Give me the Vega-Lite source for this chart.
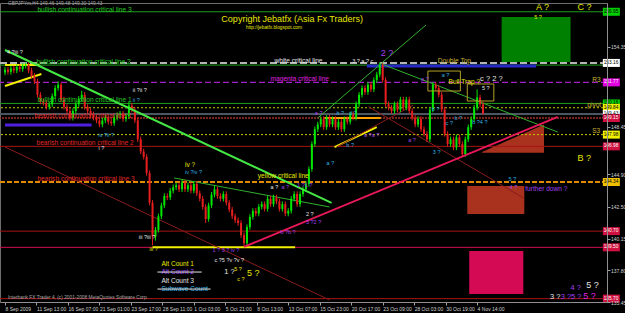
{
"$schema":"https://vega.github.io/schema/vega-lite/v6.json",
"width":607,"height":299,
"autosize":{"type":"none"},
"padding":{"left":0,"top":3,"right":18,"bottom":11},
"background":"#000000",
"config":{"view":{"stroke":"#6e6e6e","strokeWidth":1},"font":"Liberation Sans",
 "axis":{"grid":false,"title":null,"labelFontSize":5,"labelColor":"#d0d0d0","tickColor":"#a0a0a0","tickSize":3,"domainColor":"#909090","labelFlush":false,"labelOverlap":false}},
"datasets":{
"candles":[
{"k":0,"o":152.45,"h":152.86,"l":152.25,"c":152.66},{"k":1,"o":152.66,"h":152.86,"l":152.3,"c":152.5},{"k":2,"o":152.5,"h":152.95,"l":152.3,"c":152.75},{"k":3,"o":152.75,"h":152.95,"l":152.4,"c":152.6},{"k":4,"o":152.6,"h":153.05,"l":152.4,"c":152.85},{"k":5,"o":152.85,"h":153.05,"l":152.5,"c":152.7},{"k":6,"o":152.7,"h":153.15,"l":152.5,"c":152.95},{"k":7,"o":152.95,"h":153.2,"l":152.75,"c":153.0},{"k":8,"o":153.0,"h":153.2,"l":152.4,"c":152.6},{"k":9,"o":152.6,"h":152.8,"l":152.0,"c":152.2},
{"k":10,"o":152.2,"h":152.4,"l":151.6,"c":151.8},{"k":11,"o":151.8,"h":152.0,"l":150.6,"c":150.8},{"k":12,"o":150.8,"h":151.0,"l":150.1,"c":150.3},{"k":13,"o":150.3,"h":150.5,"l":150.0,"c":150.2},{"k":14,"o":150.2,"h":150.4,"l":149.7,"c":149.9},{"k":15,"o":149.9,"h":150.3,"l":149.7,"c":150.1},{"k":16,"o":150.1,"h":150.9,"l":149.9,"c":150.7},{"k":17,"o":150.7,"h":151.5,"l":150.5,"c":151.3},{"k":18,"o":151.3,"h":151.8,"l":151.1,"c":151.55},{"k":19,"o":151.55,"h":151.7,"l":150.25,"c":150.45},
{"k":20,"o":150.45,"h":150.65,"l":149.7,"c":149.9},{"k":21,"o":149.9,"h":150.1,"l":149.4,"c":149.6},{"k":22,"o":149.6,"h":149.8,"l":148.9,"c":149.1},{"k":23,"o":149.1,"h":149.8,"l":148.9,"c":149.6},{"k":24,"o":149.6,"h":150.3,"l":149.4,"c":150.1},{"k":25,"o":150.1,"h":150.7,"l":149.9,"c":150.5},{"k":26,"o":150.5,"h":151.1,"l":150.3,"c":150.8},{"k":27,"o":150.8,"h":151.0,"l":149.7,"c":149.9},{"k":28,"o":149.9,"h":150.1,"l":149.4,"c":149.6},{"k":29,"o":149.6,"h":149.8,"l":149.15,"c":149.35},
{"k":30,"o":149.35,"h":149.55,"l":148.9,"c":149.1},{"k":31,"o":149.1,"h":149.3,"l":148.7,"c":148.9},{"k":32,"o":148.9,"h":149.1,"l":148.4,"c":148.6},{"k":33,"o":148.6,"h":149.1,"l":148.4,"c":148.9},{"k":34,"o":148.9,"h":149.3,"l":148.7,"c":149.1},{"k":35,"o":149.1,"h":149.3,"l":148.6,"c":148.8},{"k":36,"o":148.8,"h":149.0,"l":148.5,"c":148.7},{"k":37,"o":148.7,"h":149.3,"l":148.5,"c":149.1},{"k":38,"o":149.1,"h":149.5,"l":148.9,"c":149.3},{"k":39,"o":149.3,"h":149.6,"l":149.1,"c":149.4},
{"k":40,"o":149.4,"h":149.6,"l":148.8,"c":149.0},{"k":41,"o":149.0,"h":149.4,"l":148.8,"c":149.2},{"k":42,"o":149.2,"h":150.3,"l":149.0,"c":150.0},{"k":43,"o":150.0,"h":150.2,"l":149.5,"c":149.7},{"k":44,"o":149.7,"h":149.9,"l":148.7,"c":148.9},{"k":45,"o":148.9,"h":149.1,"l":147.3,"c":147.5},{"k":46,"o":147.5,"h":147.7,"l":146.4,"c":146.6},{"k":47,"o":146.6,"h":146.8,"l":146.0,"c":146.2},{"k":48,"o":146.2,"h":146.4,"l":144.8,"c":145.0},{"k":49,"o":145.0,"h":145.2,"l":142.6,"c":142.8},
{"k":50,"o":142.8,"h":143.0,"l":139.65,"c":140.3},{"k":51,"o":140.3,"h":141.0,"l":140.0,"c":140.8},{"k":52,"o":140.8,"h":142.0,"l":140.6,"c":141.8},{"k":53,"o":141.8,"h":142.8,"l":141.6,"c":142.6},{"k":54,"o":142.6,"h":143.5,"l":142.4,"c":143.3},{"k":55,"o":143.3,"h":143.5,"l":143.0,"c":143.2},{"k":56,"o":143.2,"h":143.9,"l":143.0,"c":143.7},{"k":57,"o":143.7,"h":144.15,"l":143.5,"c":143.95},{"k":58,"o":143.95,"h":144.3,"l":143.75,"c":144.1},{"k":59,"o":144.1,"h":144.3,"l":143.6,"c":143.8},
{"k":60,"o":143.8,"h":144.5,"l":143.6,"c":144.3},{"k":61,"o":144.3,"h":144.5,"l":143.6,"c":143.8},{"k":62,"o":143.8,"h":144.3,"l":143.6,"c":144.1},{"k":63,"o":144.1,"h":144.3,"l":143.5,"c":143.7},{"k":64,"o":143.7,"h":144.4,"l":143.5,"c":144.2},{"k":65,"o":144.2,"h":144.4,"l":143.3,"c":143.5},{"k":66,"o":143.5,"h":143.7,"l":142.9,"c":143.1},{"k":67,"o":143.1,"h":143.3,"l":142.3,"c":142.5},{"k":68,"o":142.5,"h":142.7,"l":141.3,"c":141.6},{"k":69,"o":141.6,"h":142.8,"l":141.4,"c":142.6},
{"k":70,"o":142.6,"h":143.6,"l":142.4,"c":143.4},{"k":71,"o":143.4,"h":144.1,"l":143.2,"c":143.8},{"k":72,"o":143.8,"h":144.0,"l":143.1,"c":143.3},{"k":73,"o":143.3,"h":143.5,"l":142.9,"c":143.1},{"k":74,"o":143.1,"h":143.65,"l":142.9,"c":143.45},{"k":75,"o":143.45,"h":143.65,"l":142.6,"c":142.8},{"k":76,"o":142.8,"h":143.0,"l":142.1,"c":142.3},{"k":77,"o":142.3,"h":142.5,"l":141.6,"c":141.8},{"k":78,"o":141.8,"h":142.0,"l":141.3,"c":141.5},{"k":79,"o":141.5,"h":141.7,"l":141.1,"c":141.3},
{"k":80,"o":141.3,"h":141.5,"l":140.2,"c":140.4},{"k":81,"o":140.4,"h":140.6,"l":139.6,"c":139.8},{"k":82,"o":139.8,"h":141.2,"l":139.6,"c":141.0},{"k":83,"o":141.0,"h":141.95,"l":140.8,"c":141.75},{"k":84,"o":141.75,"h":142.4,"l":141.55,"c":142.2},{"k":85,"o":142.2,"h":142.4,"l":141.8,"c":142.0},{"k":86,"o":142.0,"h":142.7,"l":141.8,"c":142.5},{"k":87,"o":142.5,"h":142.9,"l":142.3,"c":142.7},{"k":88,"o":142.7,"h":142.9,"l":142.15,"c":142.35},{"k":89,"o":142.35,"h":143.3,"l":142.15,"c":143.1},
{"k":90,"o":143.1,"h":143.3,"l":142.5,"c":142.7},{"k":91,"o":142.7,"h":143.4,"l":142.5,"c":143.2},{"k":92,"o":143.2,"h":143.4,"l":142.7,"c":142.9},{"k":93,"o":142.9,"h":143.1,"l":142.15,"c":142.35},{"k":94,"o":142.35,"h":142.9,"l":142.15,"c":142.7},{"k":95,"o":142.7,"h":142.9,"l":141.8,"c":142.0},{"k":96,"o":142.0,"h":142.4,"l":141.8,"c":142.2},{"k":97,"o":142.2,"h":143.3,"l":142.0,"c":143.1},{"k":98,"o":143.1,"h":143.65,"l":142.9,"c":143.45},{"k":99,"o":143.45,"h":143.65,"l":142.5,"c":142.7},
{"k":100,"o":142.7,"h":143.65,"l":142.5,"c":143.45},{"k":101,"o":143.45,"h":144.0,"l":143.25,"c":143.8},{"k":102,"o":143.8,"h":144.4,"l":143.6,"c":144.2},{"k":103,"o":144.2,"h":145.5,"l":144.0,"c":145.3},{"k":104,"o":145.3,"h":147.35,"l":145.1,"c":147.15},{"k":105,"o":147.15,"h":148.45,"l":146.95,"c":148.25},{"k":106,"o":148.25,"h":148.8,"l":148.05,"c":148.6},{"k":107,"o":148.6,"h":149.2,"l":148.4,"c":149.0},{"k":108,"o":149.0,"h":149.2,"l":148.2,"c":148.4},{"k":109,"o":148.4,"h":149.3,"l":148.2,"c":149.1},
{"k":110,"o":149.1,"h":149.3,"l":148.4,"c":148.6},{"k":111,"o":148.6,"h":149.2,"l":148.4,"c":149.0},{"k":112,"o":149.0,"h":149.2,"l":148.2,"c":148.4},{"k":113,"o":148.4,"h":149.0,"l":148.2,"c":148.8},{"k":114,"o":148.8,"h":149.0,"l":148.05,"c":148.25},{"k":115,"o":148.25,"h":149.2,"l":148.05,"c":149.0},{"k":116,"o":149.0,"h":149.2,"l":148.6,"c":148.8},{"k":117,"o":148.8,"h":149.55,"l":148.6,"c":149.35},{"k":118,"o":149.35,"h":149.55,"l":148.9,"c":149.1},{"k":119,"o":149.1,"h":150.3,"l":148.9,"c":150.1},
{"k":120,"o":150.1,"h":151.0,"l":149.9,"c":150.8},{"k":121,"o":150.8,"h":151.5,"l":150.6,"c":151.3},{"k":122,"o":151.3,"h":151.5,"l":150.8,"c":151.0},{"k":123,"o":151.0,"h":151.75,"l":150.8,"c":151.55},{"k":124,"o":151.55,"h":151.75,"l":151.0,"c":151.2},{"k":125,"o":151.2,"h":152.1,"l":151.0,"c":151.9},{"k":126,"o":151.9,"h":152.5,"l":151.7,"c":152.3},{"k":127,"o":152.3,"h":153.2,"l":152.1,"c":153.0},{"k":128,"o":153.0,"h":153.15,"l":151.7,"c":151.9},{"k":129,"o":151.9,"h":152.1,"l":149.9,"c":150.1},
{"k":130,"o":150.1,"h":150.3,"l":149.65,"c":149.85},{"k":131,"o":149.85,"h":150.05,"l":149.4,"c":149.6},{"k":132,"o":149.6,"h":150.3,"l":149.4,"c":150.1},{"k":133,"o":150.1,"h":150.3,"l":149.5,"c":149.7},{"k":134,"o":149.7,"h":150.65,"l":149.5,"c":150.45},{"k":135,"o":150.45,"h":150.65,"l":149.65,"c":149.85},{"k":136,"o":149.85,"h":150.65,"l":149.65,"c":150.45},{"k":137,"o":150.45,"h":150.65,"l":149.4,"c":149.6},{"k":138,"o":149.6,"h":149.8,"l":148.9,"c":149.1},{"k":139,"o":149.1,"h":149.3,"l":148.4,"c":148.6},
{"k":140,"o":148.6,"h":149.2,"l":148.4,"c":149.0},{"k":141,"o":149.0,"h":149.2,"l":148.05,"c":148.25},{"k":142,"o":148.25,"h":148.45,"l":147.7,"c":147.9},{"k":143,"o":147.9,"h":148.1,"l":147.3,"c":147.5},{"k":144,"o":147.5,"h":149.9,"l":147.3,"c":149.7},{"k":145,"o":149.7,"h":151.75,"l":149.5,"c":151.55},{"k":146,"o":151.55,"h":151.75,"l":151.1,"c":151.3},{"k":147,"o":151.3,"h":151.5,"l":150.6,"c":150.8},{"k":148,"o":150.8,"h":151.0,"l":149.5,"c":149.7},{"k":149,"o":149.7,"h":149.9,"l":147.7,"c":147.9},
{"k":150,"o":147.9,"h":148.1,"l":146.95,"c":147.15},{"k":151,"o":147.15,"h":147.7,"l":146.95,"c":147.5},{"k":152,"o":147.5,"h":147.7,"l":146.7,"c":146.9},{"k":153,"o":146.9,"h":147.85,"l":146.7,"c":147.65},{"k":154,"o":147.65,"h":147.85,"l":146.95,"c":147.15},{"k":155,"o":147.15,"h":147.35,"l":146.2,"c":146.4},{"k":156,"o":146.4,"h":147.7,"l":146.2,"c":147.5},{"k":157,"o":147.5,"h":148.6,"l":147.3,"c":148.4},{"k":158,"o":148.4,"h":149.2,"l":148.2,"c":149.0},{"k":159,"o":149.0,"h":150.05,"l":148.8,"c":149.85},
{"k":160,"o":149.85,"h":151.2,"l":149.65,"c":150.6},{"k":161,"o":150.6,"h":150.8,"l":149.9,"c":150.1},{"k":162,"o":150.1,"h":150.3,"l":149.3,"c":149.43}
],
"t9":[
{"k":73.33,"p":156.41,"t":"Copyright Jebatfx (Asia Fx Traders)","g":"y"},
{"k":180,"p":157.3,"t":"A ?","g":"y"},
{"k":194,"p":157.3,"t":"C ?","g":"y"},
{"k":194,"p":146.12,"t":"B ?","g":"y"},
{"k":127.33,"p":153.9,"t":"2 ?","g":"p"},
{"k":197,"p":136.71,"t":"5 ?","g":"w"},
{"k":196,"p":135.9,"t":"5 ?","g":"m"},
{"k":82,"p":137.6,"t":"5 ?","g":"y"}
],
"t75":[
{"k":161,"p":151.97,"t":"c ? 2 ?","g":"w"},
{"k":74.33,"p":137.67,"t":"1 ?","g":"w"},
{"k":191.67,"p":136.49,"t":"4 ?","g":"p"},
{"k":184.67,"p":135.82,"t":"3 ?","g":"w"},
{"k":188.33,"p":135.82,"t":"3 ?5 ?","g":"p"}
],
"t66":[
{"k":11,"p":157.08,"t":"bullish continuation critical line 3","g":"g"},
{"k":10.67,"p":153.23,"t":"bullish continuation critical line 2","g":"g"},
{"k":11,"p":150.41,"t":"bullish continuation critical line 1","g":"g"},
{"k":10,"p":149.23,"t":"bearish continuation critical line 1","g":"r"},
{"k":10.67,"p":147.2,"t":"bearish continuation critical line 2","g":"r"},
{"k":11,"p":144.56,"t":"bearish continuation critical line 3","g":"r"},
{"k":91.33,"p":153.3,"t":"white critical line","g":"w"},
{"k":90,"p":151.97,"t":"magenta critical line","g":"m"},
{"k":85.67,"p":144.79,"t":"yellow critical line","g":"y"},
{"k":146.67,"p":153.3,"t":"Double Top","g":"o"},
{"k":150.33,"p":151.75,"t":"Bull Trap ?","g":"y"},
{"k":199,"p":151.9,"t":"R3","g":"o"},
{"k":197.33,"p":150.04,"t":"pivot","g":"o"},
{"k":199,"p":148.12,"t":"S3","g":"o"},
{"k":176.33,"p":143.82,"t":"further down ?","g":"p"},
{"k":53,"p":138.27,"t":"Alt Count 1","g":"y"},
{"k":53,"p":137.67,"t":"Alt Count 2","g":"p"},
{"k":53,"p":137.01,"t":"Alt Count 3","g":"w"},
{"k":53,"p":136.41,"t":"Subwave Count","g":"c"},
{"k":61,"p":145.6,"t":"iv ?","g":"y"}
],
"t55":[
{"k":0.67,"p":153.97,"t":"4 ?iii ?","g":"w"},
{"k":43.33,"p":151.16,"t":"ii ?ii ?","g":"w"},
{"k":43.33,"p":150.41,"t":"ii ?","g":"c"},
{"k":31.67,"p":147.8,"t":"iv ?ii ?","g":"c"},
{"k":31.67,"p":146.86,"t":"i ?","g":"w"},
{"k":61,"p":145.08,"t":"iv ?iv ?","g":"c"},
{"k":45.33,"p":140.27,"t":"iii ?iii ?","g":"w"},
{"k":49,"p":139.38,"t":"iii ?","g":"y"},
{"k":70.33,"p":139.3,"t":"1 ? 3 ? iv ?","g":"p"},
{"k":71,"p":138.56,"t":"c ?5 ?v ?v ?","g":"w"},
{"k":77.67,"p":137.9,"t":"5 ?","g":"y"},
{"k":78.67,"p":137.16,"t":"c ?","g":"y"},
{"k":90,"p":143.97,"t":"a ?","g":"w"},
{"k":93.67,"p":143.97,"t":"a ?","g":"p"},
{"k":99,"p":144.12,"t":"1 ?1 ?","g":"p"},
{"k":102,"p":141.97,"t":"2 ?","g":"w"},
{"k":102,"p":141.38,"t":"3 ?2 ?","g":"p"},
{"k":93.33,"p":140.64,"t":"b ?b ?","g":"p"},
{"k":117.67,"p":153.3,"t":"3 ? a ? c","g":"w"},
{"k":141,"p":151.97,"t":"a ?","g":"p"},
{"k":148,"p":152.27,"t":"a ?","g":"c"},
{"k":161.67,"p":151.3,"t":"5 ?","g":"w"},
{"k":144.67,"p":149.75,"t":"b ?","g":"c"},
{"k":105,"p":149.45,"t":"a ?","g":"p"},
{"k":112.33,"p":149.45,"t":"b ?","g":"c"},
{"k":116.67,"p":149.45,"t":"d ?","g":"c"},
{"k":109,"p":145.75,"t":"a ?","g":"c"},
{"k":115.67,"p":147.08,"t":"b ?","g":"c"},
{"k":121.67,"p":147.82,"t":"a ?a ?","g":"p"},
{"k":136.67,"p":147.45,"t":"a ?","g":"p"},
{"k":149.33,"p":148.71,"t":"c ?","g":"c"},
{"k":152.33,"p":149.08,"t":"b ?","g":"c"},
{"k":145,"p":146.56,"t":"3 ?","g":"c"},
{"k":158.33,"p":148.79,"t":"b ?4 ?","g":"c"},
{"k":170.67,"p":144.56,"t":"5 ?","g":"c"},
{"k":171,"p":143.97,"t":"4 ?","g":"p"},
{"k":179.33,"p":156.56,"t":"5 ?","g":"y"}
],
"t48":[
{"k":1,"p":157.53,"t":"GBPJPYm,H4  149.46 149.48 149.30 149.43","g":"gray"},
{"k":1,"p":135.75,"t":"Interbank FX Trader 4, (c) 2001-2008 MetaQuotes Software Corp.","g":"gray"},
{"k":81.67,"p":155.75,"t":"http://jebatfx.blogspot.com","g":"y"}
],
"ax":[
{"p":156.95,"t":"156.95","g":"g"},
{"p":153.16,"t":"153.16","g":"w"},
{"p":151.72,"t":"151.77","g":"m"},
{"p":150.16,"t":"150.16","g":"g"},
{"p":149.84,"t":"149.84","g":"y"},
{"p":149.38,"t":"149.43","g":"w"},
{"p":149.08,"t":"149.15","g":"r"},
{"p":147.85,"t":"147.98","g":"y"},
{"p":146.98,"t":"146.98","g":"r"},
{"p":144.34,"t":"144.34","g":"o"},
{"p":140.7,"t":"140.70","g":"r"},
{"p":139.5,"t":"139.50","g":"r"},
{"p":135.7,"t":"135.70","g":"r"}
]
},
"layer":[
{"data":{"values":[{"k":168.33,"k2":191.67,"p":156.56,"p2":153.23}]},"mark":{"type":"rect","color":"#008000"},
 "encoding":{
  "x":{"field":"k","type":"quantitative","scale":{"domain":[0,202.33],"nice":false,"zero":false},
   "axis":{"title":null,"values":[0,10.667,21.333,32,42.667,53.333,64,74.667,85.333,96,106.667,117.333,128,138.667,149.333,160],
     "labelExpr":"['8 Sep 2009','11 Sep 13:00','16 Sep 07:00','21 Sep 01:00','23 Sep 17:00','28 Sep 11:00','1 Oct 03:00','5 Oct 21:00','8 Oct 13:00','13 Oct 07:00','15 Oct 23:00','20 Oct 17:00','23 Oct 09:00','28 Oct 03:00','30 Oct 19:00','4 Nov 14:00'][round(datum.value*3/32)]",
     "labelAlign":"left","labelPadding":1,"zindex":2}},
  "x2":{"field":"k2"},
  "y":{"field":"p","type":"quantitative","scale":{"domain":[135.45,157.6],"nice":false,"zero":false},
   "axis":{"title":null,"orient":"right","values":[155.55,154.35,150.8,148.45,146.1,144.9,143.7,142.5,141.35,140.15,139,137.8,136.65,135.45],"format":".2f","labelPadding":0.5,"zindex":2}},
  "y2":{"field":"p2"}}},
{"data":{"values":[{"k":156.67,"k2":176,"p":144.04,"p2":141.97}]},"mark":{"type":"rect","color":"#a8321e"},
 "encoding":{"x":{"field":"k","type":"quantitative"},"x2":{"field":"k2"},"y":{"field":"p","type":"quantitative"},"y2":{"field":"p2"}}},
{"data":{"values":[{"k":157.33,"k2":175.67,"p":139.23,"p2":136.04}]},"mark":{"type":"rect","color":"#d40a55"},
 "encoding":{"x":{"field":"k","type":"quantitative"},"x2":{"field":"k2"},"y":{"field":"p","type":"quantitative"},"y2":{"field":"p2"}}},
{"data":{"values":[{"k":161.67,"p":146.56,"p2":146.5},{"k":182.67,"p":148.6,"p2":146.5}]},"mark":{"type":"area","color":"#a8321e","orient":"vertical"},
 "encoding":{"x":{"field":"k","type":"quantitative"},"y":{"field":"p","type":"quantitative"},"y2":{"field":"p2"}}},

{"data":{"values":[{"p":156.95},{"p":153.0},{"p":150.16}]},"mark":{"type":"rule","color":"#1e9e1e","strokeWidth":1},
 "encoding":{"y":{"field":"p","type":"quantitative"}}},
{"data":{"values":[{"p":153.16}]},"mark":{"type":"rule","color":"#b4b4b4","strokeWidth":2,"strokeDash":[7,3]},
 "encoding":{"y":{"field":"p","type":"quantitative"}}},
{"data":{"values":[{"p":151.72}]},"mark":{"type":"rule","color":"#a020c8","strokeWidth":1.2,"strokeDash":[6,3]},
 "encoding":{"y":{"field":"p","type":"quantitative"}}},
{"data":{"values":[{"p":149.84},{"p":147.85}]},"mark":{"type":"rule","color":"#c8c800","strokeWidth":1,"strokeDash":[2,2]},
 "encoding":{"y":{"field":"p","type":"quantitative"}}},
{"data":{"values":[{"p":149.38}]},"mark":{"type":"rule","color":"#4c5660","strokeWidth":2},
 "encoding":{"y":{"field":"p","type":"quantitative"}}},
{"data":{"values":[{"p":149.08}]},"mark":{"type":"rule","color":"#a03020","strokeWidth":1.5,"strokeDash":[2,1]},
 "encoding":{"y":{"field":"p","type":"quantitative"}}},
{"data":{"values":[{"p":146.98},{"p":140.7},{"p":135.7}]},"mark":{"type":"rule","color":"#a81414","strokeWidth":1},
 "encoding":{"y":{"field":"p","type":"quantitative"}}},
{"data":{"values":[{"p":139.5}]},"mark":{"type":"rule","color":"#d01050","strokeWidth":1},
 "encoding":{"y":{"field":"p","type":"quantitative"}}},
{"data":{"values":[{"p":144.34}]},"mark":{"type":"rule","color":"#e08a00","strokeWidth":2,"strokeDash":[5,2]},
 "encoding":{"y":{"field":"p","type":"quantitative"}}},

{"data":{"values":[{"k":0,"k2":11.67,"p":153.0,"p2":153.0},{"k":0,"k2":12.33,"p":151.45,"p2":152.34},{"k":50,"k2":98.33,"p":139.5,"p2":139.5},{"k":111.67,"k2":126,"p":146.93,"p2":148.41}]},"mark":{"type":"rule","color":"#f0f000","strokeWidth":2},
 "encoding":{"x":{"field":"k","type":"quantitative"},"x2":{"field":"k2"},"y":{"field":"p","type":"quantitative"},"y2":{"field":"p2"}}},
{"data":{"values":[{"k":108.33,"k2":127.33,"p":149.08,"p2":149.08}]},"mark":{"type":"rule","color":"#ffa000","strokeWidth":2},
 "encoding":{"x":{"field":"k","type":"quantitative"},"x2":{"field":"k2"},"y":{"field":"p","type":"quantitative"},"y2":{"field":"p2"}}},
{"data":{"values":[{"k":122.67,"k2":180,"p":152.93,"p2":152.93}]},"mark":{"type":"rule","color":"#2828c8","strokeWidth":3},
 "encoding":{"x":{"field":"k","type":"quantitative"},"x2":{"field":"k2"},"y":{"field":"p","type":"quantitative"},"y2":{"field":"p2"}}},
{"data":{"values":[{"k":0,"k2":29.33,"p":148.56,"p2":148.56}]},"mark":{"type":"rule","color":"#5020e0","strokeWidth":3},
 "encoding":{"x":{"field":"k","type":"quantitative"},"x2":{"field":"k2"},"y":{"field":"p","type":"quantitative"},"y2":{"field":"p2"}}},
{"data":{"values":[{"k":106,"k2":142.67,"p":149.08,"p2":155.97},{"k":127.67,"k2":187.33,"p":153.08,"p2":148.04},{"k":57.33,"k2":110,"p":144.64,"p2":142.49}]},"mark":{"type":"rule","color":"#30b030","strokeWidth":1},
 "encoding":{"x":{"field":"k","type":"quantitative"},"x2":{"field":"k2"},"y":{"field":"p","type":"quantitative"},"y2":{"field":"p2"}}},
{"data":{"values":[{"k":0,"k2":110,"p":146.93,"p2":135.6},{"k":123.33,"k2":175.67,"p":149.9,"p2":143.16},{"k":112.33,"k2":138.33,"p":146.93,"p2":150.04}]},"mark":{"type":"rule","color":"#8a1c1c","strokeWidth":1},
 "encoding":{"x":{"field":"k","type":"quantitative"},"x2":{"field":"k2"},"y":{"field":"p","type":"quantitative"},"y2":{"field":"p2"}}},

{"data":{"name":"candles"},"mark":{"type":"rule","strokeWidth":1},
 "encoding":{
  "x":{"field":"k","type":"quantitative"},
  "y":{"field":"l","type":"quantitative"},
  "y2":{"field":"h"},
  "color":{"condition":{"test":"datum.c>=datum.o","value":"#00e600"},"value":"#e61e1e"}}},
{"data":{"name":"candles"},"mark":{"type":"bar","width":2},
 "encoding":{
  "x":{"field":"k","type":"quantitative"},
  "y":{"field":"o","type":"quantitative"},
  "y2":{"field":"c"},
  "color":{"condition":{"test":"datum.c>=datum.o","value":"#00e600"},"value":"#e61e1e"}}},
{"data":{"values":[{"k":81,"k2":187.33,"p":139.53,"p2":149.16}]},"mark":{"type":"rule","color":"#e8185a","strokeWidth":2},
 "encoding":{"x":{"field":"k","type":"quantitative"},"x2":{"field":"k2"},"y":{"field":"p","type":"quantitative"},"y2":{"field":"p2"}}},
{"data":{"values":[{"k":0,"k2":110.67,"p":154.12,"p2":142.79}]},"mark":{"type":"rule","color":"#44e844","strokeWidth":2},
 "encoding":{"x":{"field":"k","type":"quantitative"},"x2":{"field":"k2"},"y":{"field":"p","type":"quantitative"},"y2":{"field":"p2"}}},
{"data":{"values":[{"k":143.33,"k2":154.33,"p":152.56,"p2":151.08},{"k":156.67,"k2":165.67,"p":151.6,"p2":150.34}]},"mark":{"type":"rect","filled":false,"stroke":"#b4a028","strokeWidth":1},
 "encoding":{"x":{"field":"k","type":"quantitative"},"x2":{"field":"k2"},"y":{"field":"p","type":"quantitative"},"y2":{"field":"p2"}}},

{"data":{"name":"t9"},"mark":{"type":"text","fontSize":9,"align":"left","baseline":"middle"},
 "encoding":{"x":{"field":"k","type":"quantitative"},"y":{"field":"p","type":"quantitative"},"text":{"field":"t"},
  "color":{"field":"g","type":"nominal","scale":{"domain":["w","g","r","y","m","p","c","o","gray"],"range":["#e6e6e6","#22c822","#e02828","#e8e800","#e020e0","#a040f0","#30b0e0","#c8b030","#a8a8a8"]},"legend":null}}},
{"data":{"name":"t75"},"mark":{"type":"text","fontSize":7.5,"align":"left","baseline":"middle"},
 "encoding":{"x":{"field":"k","type":"quantitative"},"y":{"field":"p","type":"quantitative"},"text":{"field":"t"},
  "color":{"field":"g","type":"nominal","scale":{"domain":["w","g","r","y","m","p","c","o","gray"],"range":["#e6e6e6","#22c822","#e02828","#e8e800","#e020e0","#a040f0","#30b0e0","#c8b030","#a8a8a8"]},"legend":null}}},
{"data":{"name":"t66"},"mark":{"type":"text","fontSize":6.6,"align":"left","baseline":"middle"},
 "encoding":{"x":{"field":"k","type":"quantitative"},"y":{"field":"p","type":"quantitative"},"text":{"field":"t"},
  "color":{"field":"g","type":"nominal","scale":{"domain":["w","g","r","y","m","p","c","o","gray"],"range":["#e6e6e6","#22c822","#e02828","#e8e800","#e020e0","#a040f0","#30b0e0","#c8b030","#a8a8a8"]},"legend":null}}},
{"data":{"name":"t55"},"mark":{"type":"text","fontSize":5.5,"align":"left","baseline":"middle"},
 "encoding":{"x":{"field":"k","type":"quantitative"},"y":{"field":"p","type":"quantitative"},"text":{"field":"t"},
  "color":{"field":"g","type":"nominal","scale":{"domain":["w","g","r","y","m","p","c","o","gray"],"range":["#e6e6e6","#22c822","#e02828","#e8e800","#e020e0","#a040f0","#30b0e0","#c8b030","#a8a8a8"]},"legend":null}}},
{"data":{"name":"t48"},"mark":{"type":"text","fontSize":4.8,"align":"left","baseline":"middle"},
 "encoding":{"x":{"field":"k","type":"quantitative"},"y":{"field":"p","type":"quantitative"},"text":{"field":"t"},
  "color":{"field":"g","type":"nominal","scale":{"domain":["w","g","r","y","m","p","c","o","gray"],"range":["#e6e6e6","#22c822","#e02828","#e8e800","#e020e0","#a040f0","#30b0e0","#c8b030","#a8a8a8"]},"legend":null}}},
{"data":{"values":[{"k":51.67,"k2":66.67,"p":137.67,"p2":137.67},{"k":51.67,"k2":69.67,"p":136.41,"p2":136.41}]},"mark":{"type":"rule","color":"#e6e6e6","strokeWidth":1},
 "encoding":{"x":{"field":"k","type":"quantitative"},"x2":{"field":"k2"},"y":{"field":"p","type":"quantitative"},"y2":{"field":"p2"}}},

{"data":{"name":"ax"},"mark":{"type":"tick","orient":"horizontal","size":17,"thickness":8,"opacity":1},
 "encoding":{"x":{"datum":205.5,"type":"quantitative"},
  "y":{"field":"p","type":"quantitative"},
  "fill":{"field":"g","type":"nominal","scale":{"domain":["g","w","m","y","r","o"],"range":["#00d000","#ffffff","#e000e0","#f0f000","#d01040","#f0c000"]},"legend":null}}},
{"data":{"name":"ax"},"mark":{"type":"text","fontSize":4.8,"align":"left","baseline":"middle"},
 "encoding":{"x":{"datum":202.9,"type":"quantitative"},
  "y":{"field":"p","type":"quantitative"},
  "text":{"field":"t"},
  "color":{"condition":{"test":"datum.g==='r'||datum.g==='m'","value":"#ffffff"},"value":"#000000"}}}
]
}
